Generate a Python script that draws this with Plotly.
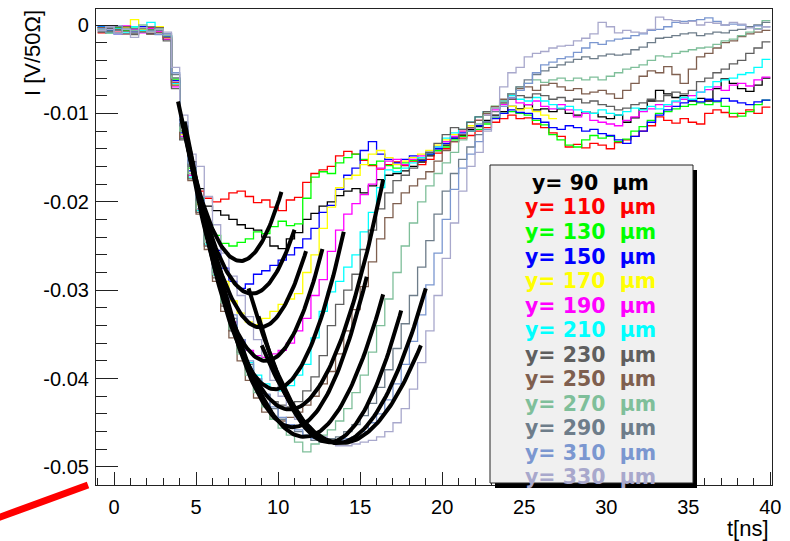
import numpy as np
import plotly.graph_objects as go

# ---- binning of the current pulses (ns) ----
BIN_START = -1.0
BIN_WIDTH = 0.5

# laser position y (um) and line colour of each pulse
positions_um = [90, 110, 130, 150, 170, 190, 210, 230, 250, 270, 290, 310, 330]
line_colors = ["#000000", "#ff0000", "#00ff00", "#0000ff", "#ffff00", "#ff00ff",
               "#00ffff", "#5f5f5f", "#7f5f4f", "#7fbf9a", "#6e7d8a", "#7b97d0",
               "#a8a8cc"]

# axis ticks
x_tick_vals = [0, 5, 10, 15, 20, 25, 30, 35, 40]
y_tick_vals = [0.0, -0.01, -0.02, -0.03, -0.04, -0.05]
y_tick_text = ["0", "-0.01", "-0.02", "-0.03", "-0.04", "-0.05"]

# ---- induced current per bin, in mV (across 50 Ohm) ----
sig_90 = [-0.3, -0.8, -0.2, -0.6, -0.9, -0.4, -1.0, -0.5, -1.6,
          -6.0, -11.5, -15.5, -18.5, -20.5, -21.0, -21.5, -22.0, -22.6, -23.0, -23.2,
          -24.0, -25.0, -25.3, -24.2, -23.5, -22.0, -21.3, -20.5, -20.0, -19.3,
          -18.8, -18.5, -19.0, -18.2, -17.5, -17.0, -16.8, -16.5, -16.0, -15.5,
          -14.8, -14.2, -13.6, -12.8, -12.5, -11.8, -11.5, -10.8, -10.2, -9.8,
          -9.2, -9.5, -9.0, -9.6, -9.5, -9.8, -9.5, -10.0, -10.2, -9.8,
          -10.0, -10.4, -10.6, -10.2, -11.0, -10.5, -9.5, -8.6, -7.4, -7.8,
          -8.2, -8.0, -8.6, -8.3, -8.6, -7.2, -6.1, -6.6, -7.2, -7.5, -6.8, -6.0]
sig_110 = [-0.9, -0.2, -0.5, -1.0, -0.4, -0.7, -0.3, -0.8, -1.4,
           -6.5, -12.0, -16.0, -18.8, -19.6, -20.0, -19.7, -19.0, -18.8, -19.4, -20.1,
           -19.8, -20.6, -21.0, -19.8, -19.5, -17.8, -16.8, -16.4, -16.0, -14.8,
           -14.3, -14.6, -15.3, -15.9, -16.3, -15.8, -15.5, -15.9, -15.4, -15.8,
           -15.2, -14.5, -14.0, -13.2, -12.8, -12.5, -12.0, -11.6, -11.0, -10.6,
           -10.2, -10.6, -10.5, -11.2, -11.6, -12.2, -12.6, -13.8, -13.5, -13.9,
           -13.4, -13.6, -14.0, -13.3, -13.0, -12.6, -12.0, -11.4, -10.4, -10.8,
           -11.1, -10.6, -11.0, -11.2, -10.0, -9.6, -9.9, -10.4, -10.0, -9.6, -10.0, -9.3]
sig_130 = [-0.5, -0.9, -0.3, -0.6, -0.2, -0.8, -0.5, -0.3, -1.2,
           -6.2, -12.0, -16.2, -19.6, -22.4, -23.8, -24.7, -25.0, -24.6, -24.2, -23.4,
           -23.6, -22.8, -22.2, -22.7, -22.5, -19.6, -17.2, -16.6, -16.8, -15.6,
           -15.0, -14.6, -15.2, -15.8, -15.4, -15.9, -16.2, -15.6, -15.3, -15.0,
           -14.6, -14.2, -13.8, -13.0, -12.6, -12.0, -11.8, -11.2, -10.5, -10.0,
           -9.8, -10.0, -10.2, -10.8, -11.3, -12.4, -13.0, -13.6, -13.8, -13.0,
           -12.5, -12.8, -12.6, -13.2, -12.9, -12.0, -11.5, -10.8, -10.0, -9.8,
           -9.5, -9.2, -9.0, -8.8, -9.0, -8.7, -9.2, -10.0, -10.3, -9.8, -9.0, -8.5]
sig_150 = [-0.2, -0.6, -1.0, -0.4, -0.7, -0.2, -0.9, -0.6, -1.3,
           -6.3, -12.2, -16.5, -20.0, -23.0, -25.5, -27.5, -29.0, -29.8, -29.3, -28.2,
           -27.8, -27.2, -26.6, -26.0, -25.2, -24.2, -23.0, -21.2, -20.4, -18.6,
           -17.0, -16.2, -14.2, -13.2, -14.6, -15.2, -15.6, -15.2, -14.8, -15.3,
           -14.6, -14.0, -13.4, -12.8, -12.2, -12.0, -11.4, -11.0, -10.6, -10.0,
           -9.6, -9.9, -10.0, -10.6, -11.0, -11.6, -11.8, -11.4, -11.6, -12.0,
           -11.8, -12.3, -12.5, -13.0, -13.4, -12.6, -12.0, -11.0, -10.2, -9.6,
           -9.2, -8.8, -8.5, -8.7, -8.4, -8.6, -8.3, -8.6, -8.8, -9.0, -8.7, -8.5]
sig_170 = [-0.4, -0.1, -0.7, -0.3, 0.6, -0.5, -0.8, -0.2, -1.5,
           -6.8, -12.4, -16.8, -20.3, -23.5, -26.5, -29.0, -31.2, -32.6, -33.6, -33.9,
           -33.2, -32.4, -31.6, -31.0, -30.4, -28.0, -26.0, -23.0, -20.6, -18.4,
           -17.4, -17.0, -15.8, -14.6, -14.2, -15.0, -15.8, -15.4, -15.0, -14.6,
           -14.2, -13.6, -13.0, -12.4, -12.0, -11.4, -10.8, -10.0, -9.2, -8.8,
           -9.2, -9.6, -9.4, -9.8, -10.2, -10.6]
sig_190 = [-0.6, -0.3, -0.8, -0.1, -0.5, -0.9, -0.4, -0.7, -1.6,
           -7.0, -12.6, -17.0, -20.8, -24.6, -28.0, -31.0, -33.6, -35.6, -36.8, -37.4,
           -37.6, -37.2, -36.8, -36.0, -34.6, -33.2, -30.6, -28.8, -25.6, -23.2,
           -21.4, -20.2, -19.2, -18.0, -16.2, -15.4, -15.2, -15.8, -15.2, -14.8,
           -14.4, -13.8, -13.2, -12.6, -12.0, -11.6, -10.8, -10.2, -9.6, -9.0,
           -8.4, -8.8, -9.0, -8.6, -9.2, -9.5, -9.0, -9.6, -10.4, -10.0,
           -10.8, -11.0, -11.2, -11.4, -10.8, -10.4, -9.8, -9.5, -9.0, -9.2,
           -8.7, -8.4, -8.0, -7.6, -7.3, -7.0, -7.4, -6.8, -6.6, -6.9, -6.2, -5.9]
sig_210 = [-0.1, -0.7, -0.4, -0.9, -0.2, -0.6, 0.3, -0.5, -1.2,
           -6.6, -12.8, -17.2, -21.0, -24.8, -28.3, -31.4, -34.0, -36.4, -38.2, -39.6,
           -40.6, -41.2, -41.4, -40.8, -39.6, -38.4, -35.4, -32.4, -30.2, -29.0,
           -27.4, -26.0, -23.4, -21.2, -18.4, -16.4, -16.6, -16.2, -15.6, -15.0,
           -14.4, -13.8, -12.8, -12.2, -11.8, -11.0, -10.4, -9.8, -9.2, -8.6,
           -8.0, -8.4, -8.6, -8.2, -8.6, -9.0, -9.4, -9.2, -9.6, -9.8,
           -10.0, -9.6, -10.0, -10.2, -9.8, -9.4, -9.6, -9.2, -9.5, -9.0,
           -8.6, -8.2, -8.4, -7.6, -7.0, -6.4, -6.2, -6.0, -5.6, -5.4, -4.8, -3.9]
sig_230 = [-0.8, -0.4, -0.2, -0.7, -1.1, -0.3, -0.6, -0.9, -1.8,
           -7.2, -13.0, -17.4, -21.2, -25.0, -28.6, -31.8, -34.6, -37.0, -39.0, -40.6,
           -41.8, -42.6, -43.0, -43.2, -42.6, -41.4, -39.8, -37.4, -34.0, -31.6,
           -30.0, -28.2, -25.4, -23.2, -20.8, -19.0, -17.6, -17.0, -16.2, -15.2,
           -14.4, -13.4, -12.4, -11.6, -11.8, -11.0, -10.4, -9.8, -9.4, -8.8,
           -8.4, -8.0, -8.2, -7.8, -8.0, -8.4, -8.2, -8.6, -8.4, -8.8,
           -8.6, -9.0, -9.2, -9.6, -9.4, -9.0, -8.8, -8.4, -8.6, -8.0,
           -7.6, -7.8, -7.4, -6.4, -6.0, -5.4, -5.0, -4.4, -4.0, -3.2, -2.6, -1.9]
sig_250 = [-0.3, -0.7, -0.5, -0.2, -0.8, -0.4, -1.0, -0.3, -1.4,
           -6.8, -12.8, -17.6, -21.4, -25.4, -29.0, -32.4, -35.4, -38.0, -40.2, -42.2,
           -43.8, -44.6, -44.8, -44.4, -43.8, -43.0, -42.0, -40.6, -39.2, -37.2,
           -34.6, -32.2, -29.6, -26.8, -24.2, -21.8, -20.2, -19.0, -18.2, -17.4,
           -16.6, -15.4, -14.2, -13.2, -12.4, -11.6, -10.8, -10.0, -9.2, -8.4,
           -7.8, -7.2, -7.0, -7.4, -6.8, -6.6, -7.0, -7.4, -7.2, -7.8,
           -7.6, -7.4, -7.8, -8.3, -7.4, -6.6, -5.8, -5.2, -5.4, -4.7,
           -5.6, -6.6, -5.0, -3.6, -3.2, -2.6, -2.0, -1.8, -1.3, -1.0, -0.8, -0.6]
sig_270 = [-0.5, -0.2, -0.9, -0.4, -0.6, 0.0, -0.7, -0.4, -1.2,
           -6.0, -12.0, -16.8, -20.8, -24.6, -28.2, -31.4, -34.4, -37.2, -39.6, -41.6,
           -43.2, -44.6, -45.6, -46.4, -47.2, -48.3, -47.4, -46.4, -45.8, -44.8,
           -43.4, -41.6, -39.6, -37.0, -34.0, -31.0, -28.0, -25.0, -22.4, -20.0,
           -18.2, -16.8, -15.6, -14.4, -13.0, -12.0, -11.2, -10.2, -9.4, -8.6,
           -7.8, -7.0, -6.6, -6.2, -6.5, -6.2, -6.0, -6.3, -6.0, -6.2,
           -5.9, -6.2, -5.8, -5.4, -5.0, -4.8, -4.5, -4.0, -3.5, -3.6,
           -3.2, -3.0, -2.8, -2.6, -2.5, -2.2, -1.8, -1.6, -1.2, -0.8, -0.4, 0.5]
sig_290 = [-0.7, -0.3, -0.6, -1.0, -0.4, -0.8, -0.2, -0.6, -1.0,
           -5.6, -11.4, -16.0, -19.8, -23.4, -27.0, -30.2, -33.2, -36.0, -38.4, -40.4,
           -42.0, -43.4, -44.6, -45.4, -46.0, -46.6, -47.0, -47.2, -46.8, -46.6,
           -46.0, -45.2, -44.2, -42.8, -41.0, -39.0, -36.6, -33.8, -30.6, -27.4,
           -24.4, -21.4, -18.8, -16.8, -15.2, -13.8, -12.4, -11.0, -9.8, -8.8,
           -7.8, -7.0, -6.2, -5.6, -5.2, -4.8, -4.5, -4.2, -3.9, -3.6,
           -3.8, -3.5, -3.3, -3.4, -3.3, -2.8, -2.5, -2.0, -1.5, -1.4,
           -1.2, -1.0, -0.9, -1.2, -1.0, -0.8, -0.9, -0.6, -0.5, -0.2, 0.0, 0.3]
sig_310 = [-0.4, -0.9, -0.1, -0.5, -0.8, -0.3, -0.7, -1.1, -1.0,
           -5.4, -11.0, -15.6, -19.4, -23.0, -26.6, -29.8, -32.8, -35.6, -38.0, -40.0,
           -41.8, -43.2, -44.4, -45.2, -45.8, -46.4, -46.8, -47.0, -47.2, -47.0,
           -46.8, -46.6, -46.0, -45.0, -44.0, -42.4, -40.6, -38.4, -35.8, -32.8,
           -29.4, -25.8, -22.0, -18.6, -16.2, -14.6, -13.2, -11.8, -10.4, -9.2,
           -8.2, -7.4, -6.6, -5.4, -4.5, -4.2, -3.8, -3.6, -3.1, -2.6,
           -2.0, -2.2, -1.8, -1.6, -1.5, -1.2, -1.0, -0.6, -0.5, -0.2,
           0.3, 0.4, 0.5, 0.6, 0.8, 0.4, 0.0, 0.1, 0.0, -0.3, -0.1, -0.2]
sig_330 = [-0.6, -0.2, -1.0, -0.5, -1.4, -0.3, -0.8, -0.5, -0.8,
           -4.8, -10.2, -14.6, -16.0, -19.4, -22.6, -25.8, -28.4, -30.6, -33.0, -35.6,
           -38.0, -40.2, -42.0, -43.4, -44.6, -45.4, -46.0, -46.6, -47.0, -47.6,
           -47.6, -47.4, -47.2, -47.0, -46.6, -46.0, -45.0, -43.4, -41.2, -38.2,
           -34.6, -30.6, -26.4, -22.4, -18.8, -16.0, -14.4, -12.0, -9.4, -7.0,
           -5.4, -4.8, -3.6, -3.2, -3.0, -2.6, -2.4, -2.3, -1.8, -1.5,
           -1.0, 0.3, -0.2, -0.9, -0.6, -0.8, -0.9, -0.5, 0.9, 0.6,
           0.5, 0.2, 0.4, 0.0, 0.3, 0.2, 0.0, 0.3, 0.1, -0.3, -0.5, -0.2]

signals_mV = [sig_90, sig_110, sig_130, sig_150, sig_170, sig_190, sig_210,
              sig_230, sig_250, sig_270, sig_290, sig_310, sig_330]

# ---- second-order polynomial fits around the pulse minimum ----
# vertex time (ns), vertex value (mV), curvature (mV/ns^2), fit range (ns)
fit_t0 = [7.7, 8.4, 8.9, 9.26, 9.8, 10.7, 10.9, 11.6, 13.1, 13.6, 13.85]
fit_vmin = [-26.7, -30.4, -34.2, -38.0, -41.2, -43.5, -45.5, -46.6, -47.2, -47.3, -47.3]
fit_curv = [1.25, 1.07, 1.10, 1.07, 1.01, 0.80, 0.84, 0.70, 0.77, 0.60, 0.47]
fit_tlo = [3.9, 4.1, 4.3, 4.5, 4.6, 5.5, 6.0, 6.5, 8.8, 8.2, 9.0]
fit_thi = [10.2, 11.0, 11.7, 12.7, 14.0, 16.4, 15.4, 16.4, 17.5, 19.0, 18.7]

# ---- canvas geometry (pixels) ----
W_PX, H_PX = 790, 541
M_L, M_R, M_T, M_B = 96, 18, 9, 56
PLOT_W = W_PX - M_L - M_R
PLOT_H = H_PX - M_T - M_B
FONT = "Liberation Sans, Arial, Helvetica, sans-serif"
LEGEND_FONT = "DejaVu Sans, Liberation Sans, sans-serif"


def paper_x(px):
    return (px - M_L) / PLOT_W


def paper_y(py):
    return (H_PX - M_B - py) / PLOT_H


fig = go.Figure()

# step histograms of the pulses
for vals, col in zip(signals_mV, line_colors):
    n = len(vals)
    edges = BIN_START + BIN_WIDTH * np.arange(n + 1)
    y = np.array(vals + [vals[-1]]) / 1000.0
    fig.add_trace(go.Scatter(x=edges, y=y, mode="lines", line_shape="hv",
                             line=dict(color=col, width=1.3),
                             hoverinfo="skip", showlegend=False))

# fitted parabolas
for t0, v0, a, lo, hi in zip(fit_t0, fit_vmin, fit_curv, fit_tlo, fit_thi):
    t = np.linspace(lo, hi, 90)
    v = (v0 + a * (t - t0) ** 2) / 1000.0
    fig.add_trace(go.Scatter(x=t, y=v, mode="lines",
                             line=dict(color="black", width=4),
                             hoverinfo="skip", showlegend=False))

axis_common = dict(showgrid=False, zeroline=False, showline=True, mirror=True,
                   linecolor="#222222", linewidth=1.2, ticks="inside",
                   tickcolor="#222222", tickwidth=1.2, automargin=False,
                   tickfont=dict(family=FONT, size=20, color="black"))

fig.update_xaxes(range=[-1.1, 40.1], tickmode="array", tickvals=x_tick_vals,
                 ticklen=13, ticklabelstandoff=4,
                 minor=dict(ticks="inside", dtick=1, tick0=0, ticklen=7,
                            tickcolor="#222222", tickwidth=1.2, showgrid=False),
                 **axis_common)
fig.update_yaxes(range=[-0.05204, 0.00181], tickmode="array", tickvals=y_tick_vals,
                 ticktext=y_tick_text, ticklen=22, ticklabelstandoff=2,
                 minor=dict(ticks="inside", dtick=0.002, tick0=0, ticklen=11,
                            tickcolor="#222222", tickwidth=1.2, showgrid=False),
                 **axis_common)

shapes = []
# legend box with drop shadow
shapes.append(dict(type="rect", xref="paper", yref="paper",
                   x0=paper_x(495), x1=paper_x(697), y0=paper_y(488), y1=paper_y(170),
                   fillcolor="black", line=dict(width=0)))
shapes.append(dict(type="rect", xref="paper", yref="paper",
                   x0=paper_x(490), x1=paper_x(693), y0=paper_y(483), y1=paper_y(165),
                   fillcolor="#f0f0f0", line=dict(color="#222222", width=1)))
# red marker stroke at the lower-left corner
shapes.append(dict(type="line", xref="paper", yref="paper",
                   x0=paper_x(-12), y0=paper_y(521.5), x1=paper_x(88), y1=paper_y(485),
                   line=dict(color="#ff0000", width=7)))

annotations = []
nbsp = "\u00a0"
first_py, step_py = 183, 24.5
for k, (pos, col) in enumerate(zip(positions_um, line_colors)):
    annotations.append(dict(
        xref="paper", yref="paper", x=paper_x(590), y=paper_y(first_py + k * step_py),
        xanchor="center", yanchor="middle", showarrow=False,
        text=f"<b>y= {pos}{nbsp}{nbsp}\u00b5m</b>",
        font=dict(family=LEGEND_FONT, size=20.5, color=col)))

annotations.append(dict(xref="paper", yref="paper", x=paper_x(32), y=paper_y(8),
                        xanchor="center", yanchor="top", showarrow=False,
                        textangle=-90, text="I [V/50\u03a9]",
                        font=dict(family=FONT, size=22, color="black")))
annotations.append(dict(xref="paper", yref="paper", x=paper_x(771), y=paper_y(528),
                        xanchor="right", yanchor="middle", showarrow=False,
                        text="t[ns]", font=dict(family=FONT, size=22, color="black")))

fig.update_layout(width=W_PX, height=H_PX,
                  margin=dict(l=M_L, r=M_R, t=M_T, b=M_B, autoexpand=False),
                  paper_bgcolor="white", plot_bgcolor="white",
                  shapes=shapes, annotations=annotations, showlegend=False)

fig.write_html("out.html")
